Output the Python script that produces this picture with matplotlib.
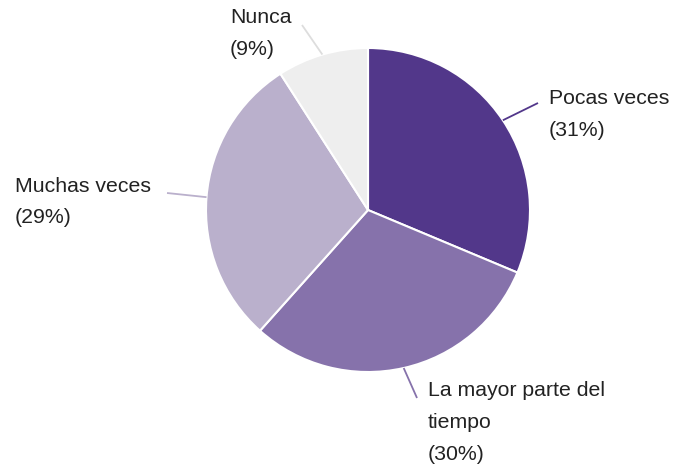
import matplotlib.pyplot as plt
import numpy as np

labels = ["Pocas veces", "La mayor parte del tiempo", "Muchas veces", "Nunca"]
values = [31, 30, 29, 9]
colors = ["#52378a", "#8672ab", "#bab0cc", "#eeeeee"]

# label text lines and layout (pixel coords, y from top)
label_lines = [["Pocas veces", "(31%)"],
               ["La mayor parte del", "tiempo", "(30%)"],
               ["Muchas veces", "(29%)"],
               ["Nunca", "(9%)"]]
label_pos = [(549, 98), (428, 390), (15, 186), (230, 18)]
leader_end = [(538, 103), (417, 398), (167, 193), (302, 25)]

W, H = 674, 465
cx, cy, r = 368, 210, 162

fig = plt.figure(figsize=(W / 100, H / 100), dpi=100)
ax = fig.add_axes([0, 0, 1, 1])

wedges, _ = ax.pie(values, colors=colors, startangle=90, counterclock=False,
                   center=(cx, H - cy), radius=r,
                   wedgeprops=dict(edgecolor="white", linewidth=1.5))
ax.set_xlim(0, W)
ax.set_ylim(0, H)
ax.set_aspect("equal")
ax.axis("off")

for w, lines, (tx, ty), (ex, ey), col in zip(wedges, label_lines, label_pos,
                                              leader_end, colors):
    mid = np.deg2rad((w.theta1 + w.theta2) / 2)
    px = cx + r * np.cos(mid)
    py = (H - cy) + r * np.sin(mid)
    lc = col if col != "#eeeeee" else "#dddddd"
    ax.plot([px, ex], [py, H - ey], color=lc, lw=1.3, solid_capstyle="butt")
    for i, line in enumerate(lines):
        ax.text(tx, H - (ty + 32 * i), line, fontsize=15.3, color="#222222",
                family="Liberation Sans", ha="left", va="center")

fig.savefig("out.png", dpi=100)
